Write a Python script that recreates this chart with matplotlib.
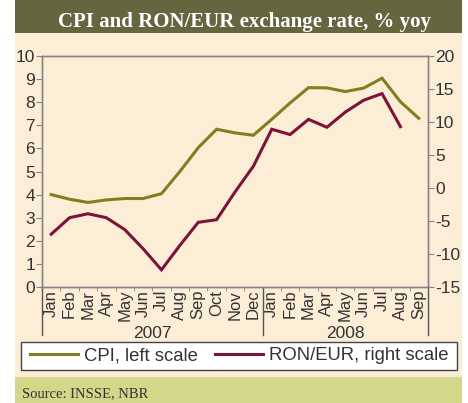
import numpy as np
import matplotlib.pyplot as plt
import matplotlib.transforms as mtransforms
from matplotlib.patches import Rectangle
from matplotlib.lines import Line2D

months = ['Jan', 'Feb', 'Mar', 'Apr', 'May', 'Jun', 'Jul', 'Aug', 'Sep', 'Oct', 'Nov', 'Dec',
          'Jan', 'Feb', 'Mar', 'Apr', 'May', 'Jun', 'Jul', 'Aug', 'Sep']
years = ['2007', '2008']
cpi = [4.0, 3.8, 3.66, 3.77, 3.83, 3.83, 4.04, 5.0, 6.03, 6.83, 6.67, 6.57,
       7.26, 7.97, 8.63, 8.62, 8.46, 8.61, 9.04, 8.02, 7.30]
ron_eur = [-7.0, -4.5, -3.9, -4.5, -6.3, -9.2, -12.4, -8.7, -5.2, -4.8, -0.6, 3.3,
           8.9, 8.1, 10.4, 9.2, 11.5, 13.3, 14.3, 9.3]

W, H = 468, 403
BG = '#fcedd6'
CPI_C = '#7e801f'
RON_C = '#7a1535'
GRID_C = '#858585'
TXT_C = '#333333'

plt.rcParams['font.family'] = ['Liberation Sans', 'DejaVu Sans']
plt.rcParams['axes.unicode_minus'] = False

fig = plt.figure(figsize=(W / 100, H / 100), dpi=100)
fig.patch.set_facecolor('white')

# panel backgrounds
fig.patches.append(Rectangle((15 / W, 26 / H), 447 / W, 344 / H, transform=fig.transFigure,
                             facecolor=BG, edgecolor='none', zorder=-10))
fig.patches.append(Rectangle((15 / W, 370 / H), 447 / W, 33 / H, transform=fig.transFigure,
                             facecolor='#656540', edgecolor='none', zorder=-10))
fig.patches.append(Rectangle((15 / W, 0), 447 / W, 26 / H, transform=fig.transFigure,
                             facecolor='#d4d68a', edgecolor='none', zorder=-10))
fig.text(245 / W, 1 - 27 / H, 'CPI and RON/EUR exchange rate, % yoy', color='white',
         fontsize=15, fontweight='bold', family='Liberation Serif', ha='center', va='baseline')
fig.text(22 / W, 9 / H, 'Source: INSSE, NBR', color=TXT_C, fontsize=10.5,
         family='Liberation Serif', ha='left', va='center')

ax = fig.add_axes([42 / W, 1 - 287 / H, 386 / W, 231 / H])
ax.set_facecolor('none')
x = np.arange(len(months))
ax.plot(x, cpi, color=CPI_C, lw=2.2, solid_joinstyle='miter', label='CPI, left scale')
ax.set_ylim(0, 10)
ax.set_yticks(range(0, 11))
ax.set_xlim(-0.5, len(months) - 0.5)

ax2 = ax.twinx()
ax2.plot(np.arange(len(ron_eur)), ron_eur, color=RON_C, lw=2.2, solid_joinstyle='miter',
         label='RON/EUR, right scale')
ax2.set_ylim(-15, 20)
ax2.set_yticks(range(-15, 21, 5))

for a in (ax, ax2):
    for s in a.spines.values():
        s.set_color(GRID_C)
        s.set_linewidth(1)
    a.tick_params(axis='y', colors=GRID_C, labelcolor=TXT_C, labelsize=12.5, length=4, pad=1)

ax.set_xticks(x)
ax.set_xticklabels(months, rotation=90, ha='center', va='top')
ax.tick_params(axis='x', length=0, labelsize=12, labelcolor=TXT_C, pad=2)
ax.set_xticks(x[:-1] + 0.5, minor=True)
ax.tick_params(axis='x', which='minor', length=3, colors=GRID_C)

# year separators and labels
trans = mtransforms.blended_transform_factory(ax.transData, ax.transAxes)
for xs in [-0.5, 11.5, len(months) - 0.5]:
    ax.add_line(Line2D([xs, xs], [0, -0.208], transform=trans, color='#555555', lw=1,
                       clip_on=False))
for yr, xc in zip(years, [5.5, 16.0]):
    ax.text(xc, -0.2, yr, transform=trans, ha='center', va='center', fontsize=12.5,
            color=TXT_C)

# legend
fig.patches.append(Rectangle((20.5 / W, 1 - 370 / H), 436 / W, 28.5 / H, transform=fig.transFigure,
                             facecolor='white', edgecolor='#444444', lw=1, zorder=2))
h1, l1 = ax.get_legend_handles_labels()
h2, l2 = ax2.get_legend_handles_labels()
leg = fig.legend(h1 + h2, l1 + l2, loc='center left', bbox_to_anchor=(30 / W, 1 - 356 / H),
                 ncol=2, frameon=False, fontsize=13.3, handlelength=2.6, handletextpad=0.3,
                 columnspacing=0.95, borderpad=0, borderaxespad=0)
for t in leg.get_texts():
    t.set_color(TXT_C)

fig.savefig('out.png', dpi=100, facecolor='white')
